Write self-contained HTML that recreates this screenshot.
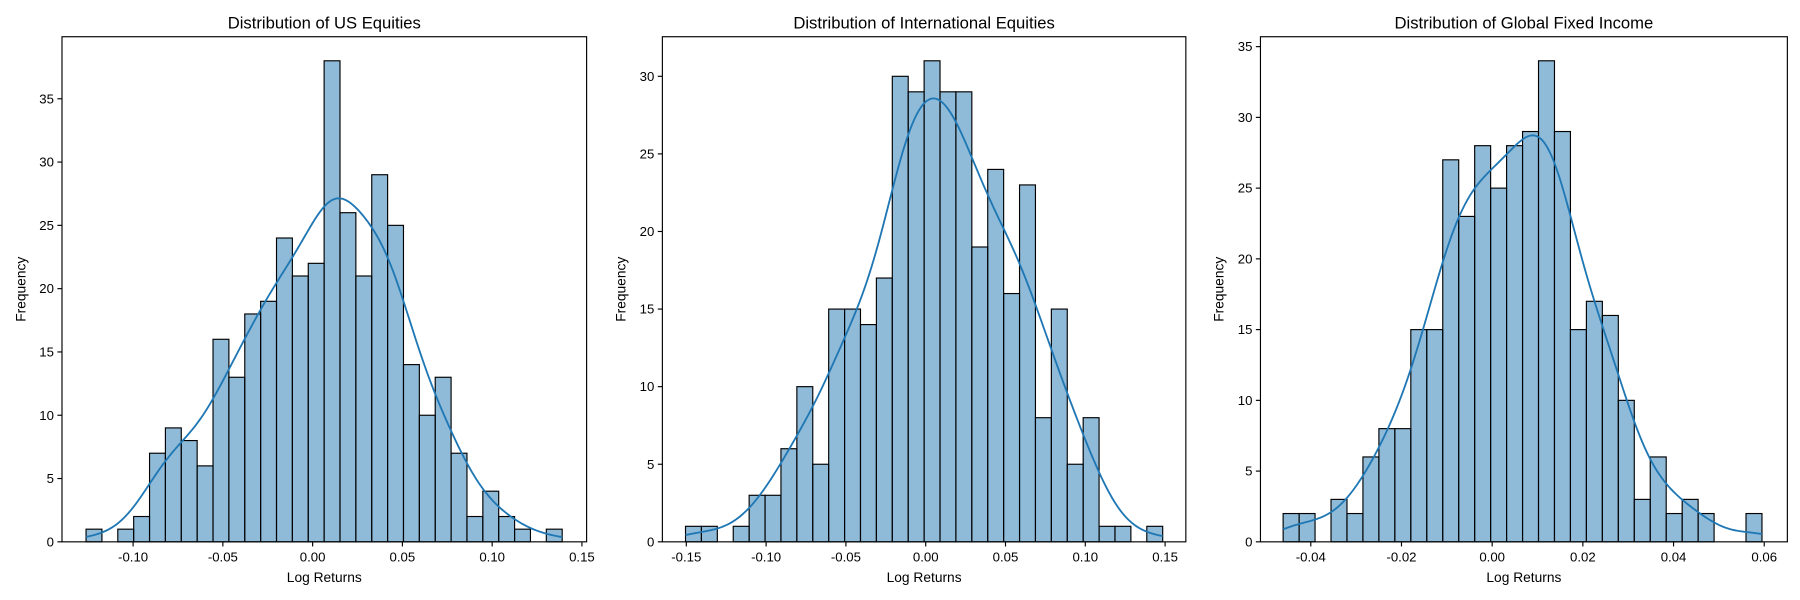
<!DOCTYPE html>
<html><head><meta charset="utf-8">
<style>
body{margin:0;background:#fff;}
svg{display:block;font-family:"Liberation Sans","DejaVu Sans",sans-serif;}
</style></head>
<body>
<svg id="chart" width="1800" height="600" viewBox="0 0 1568 522.67" xmlns="http://www.w3.org/2000/svg"></svg>
<script>
const titles = ["Distribution of US Equities","Distribution of International Equities","Distribution of Global Fixed Income"];
const usCounts = [1,0,1,2,7,9,8,6,16,13,18,19,24,21,22,38,26,21,29,25,14,10,13,7,2,4,2,1,0,1];
const intlCounts = [1,1,0,1,3,3,6,10,5,15,15,14,17,30,29,31,29,29,19,24,16,23,8,15,5,8,1,1,0,1];
const fixedCounts = [2,2,0,3,2,6,8,8,15,15,27,23,28,25,28,29,34,29,15,17,16,10,3,6,2,3,2,0,0,2];
const dataMin = [-0.1262,-0.1505,-0.0461];
const dataMax = [0.139,0.1485,0.0595];
const xTicks1 = [-0.10,-0.05,0.00,0.05,0.10,0.15];
const xTicks2 = [-0.15,-0.10,-0.05,0.00,0.05,0.10,0.15];
const xTicks3 = [-0.04,-0.02,0.00,0.02,0.04,0.06];
const yTicks1 = [0,5,10,15,20,25,30,35];
const yTicks2 = [0,5,10,15,20,25,30];
const yTicks3 = [0,5,10,15,20,25,30,35];

const NS="http://www.w3.org/2000/svg";
const svg=document.getElementById('chart');
function mk(tag,attrs,parent){const e=document.createElementNS(NS,tag);for(const k in attrs)e.setAttribute(k,attrs[k]);(parent||svg).appendChild(e);return e;}

const panels=[
 {counts:usCounts,xt:xTicks1,yt:yTicks1,L:54,R:511,xl:[-0.1396,0.1526],dec:2,name:'us-equities'},
 {counts:intlCounts,xt:xTicks2,yt:yTicks2,L:577,R:1033,xl:[-0.165,0.163],dec:2,name:'international-equities'},
 {counts:fixedCounts,xt:xTicks3,yt:yTicks3,L:1098,R:1557,xl:[-0.0511,0.0651],dec:2,name:'global-fixed-income'}
];
const T=32,B=472;
panels.forEach((p,i)=>{
 const g=mk('g',{});
 
 
 const ymax=Math.max(...p.counts)*1.05;
 const X=v=>p.L+(v-p.xl[0])/(p.xl[1]-p.xl[0])*(p.R-p.L);
 const Y=v=>B-v/ymax*(B-T);
 const n=p.counts.length, lo=dataMin[i], hi=dataMax[i], w=(hi-lo)/n;
 p.counts.forEach((c,k)=>{
  if(c<=0)return;
  const r=mk('rect',{x:X(lo+k*w),y:Y(c),width:X(lo+(k+1)*w)-X(lo+k*w),height:Y(0)-Y(c),fill:'rgba(31,119,180,0.5)',stroke:'#000','stroke-width':1},g);
  
  
 });
 let N=0,mean=0;p.counts.forEach((c,k)=>{N+=c;mean+=c*(lo+(k+0.5)*w);});mean/=N;
 let vr=0;p.counts.forEach((c,k)=>{vr+=c*Math.pow(lo+(k+0.5)*w-mean,2);});vr=vr/N+w*w/12;
 const bw=Math.sqrt(vr)*Math.pow(N,-0.2);
 let d='';
 for(let s=0;s<=200;s++){
  const x=lo+(hi-lo)*s/200;let dens=0;
  p.counts.forEach((c,k)=>{const z=(x-(lo+(k+0.5)*w))/bw;dens+=c*Math.exp(-0.5*z*z);});
  dens=dens/(N*bw*Math.sqrt(2*Math.PI))*N*w;
  d+=(s?'L':'M')+X(x).toFixed(2)+','+Y(dens).toFixed(2);
 }
 const kde=mk('path',{d:d,fill:'none',stroke:'#1f77b4','stroke-width':1.6},g);
 
 
 const fr=mk('rect',{x:p.L,y:T,width:p.R-p.L,height:B-T,fill:'none',stroke:'#000','stroke-width':1},g);
 
 
 p.xt.forEach(t=>{
  const x=X(t);
  mk('line',{x1:x,x2:x,y1:B,y2:B+4,stroke:'#000'},g);
  const tx=mk('text',{x:x,y:B+17,'text-anchor':'middle','font-size':11.5},g);
  tx.textContent=t.toFixed(p.dec);
  
  
 });
 p.yt.forEach(t=>{
  const y=Y(t);
  mk('line',{x1:p.L-4,x2:p.L,y1:y,y2:y,stroke:'#000'},g);
  const tx=mk('text',{x:p.L-7,y:y+4,'text-anchor':'end','font-size':11.5},g);
  tx.textContent=t;
  
  
 });
 const tt=mk('text',{x:(p.L+p.R)/2,y:25,'text-anchor':'middle','font-size':14.5},g);
 tt.textContent=titles[i];
 
 
 const xl=mk('text',{x:(p.L+p.R)/2,y:507,'text-anchor':'middle','font-size':12},g);
 xl.textContent='Log Returns';
 
 
 const yl=mk('text',{x:0,y:0,'text-anchor':'middle','font-size':12,transform:`translate(${p.L-32},${(T+B)/2}) rotate(-90)`},g);
 yl.textContent='Frequency';
 
 
});
</script>
</body></html>
